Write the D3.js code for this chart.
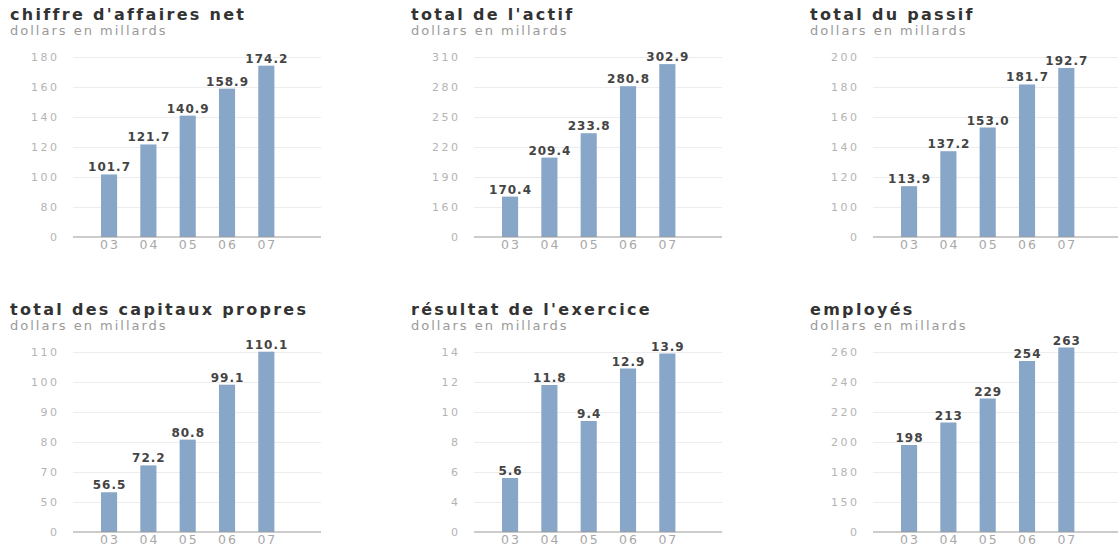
<html>
<head>
  <meta charset="utf-8">
  <script src="https://d3js.org/d3.v7.min.js"></script>
</head>
<style>
  body {
    margin: 0;
    background: #fff;
  }
  text {
    font-family: 'DejaVu Sans', sans-serif;
  }
  .title {
    font-size: 16px;
    font-weight: bold;
    fill: #333;
    letter-spacing: 2.3px;
  }
  .subtitle {
    font-size: 13px;
    fill: #9a9a9a;
    letter-spacing: 2px;
  }
  .yaxis text {
    font-size: 11px;
    fill: #b4b4b4;
    letter-spacing: 2.5px;
  }
  .yaxis line {
    stroke: #ededed;
  }
  .xaxis text {
    font-size: 12.5px;
    fill: #a8a8a8;
    letter-spacing: 2px;
  }
  .bar {
    fill: #88a6c8;
  }
  .val {
    font-size: 12px;
    font-weight: bold;
    fill: #444;
    text-anchor: middle;
    letter-spacing: 1px;
  }
</style>
<body>
  <script>
    // categories
    var years = ["03", "04", "05", "06", "07"];
    var subtitle = "dollars en millards";

    // series values
    var ventes = [101.7, 121.7, 140.9, 158.9, 174.2];
    var actif = [170.4, 209.4, 233.8, 280.8, 302.9];
    var passif = [113.9, 137.2, 153.0, 181.7, 192.7];
    var capitaux = [56.5, 72.2, 80.8, 99.1, 110.1];
    var resultat = [5.6, 11.8, 9.4, 12.9, 13.9];
    var employes = [198, 213, 229, 254, 263];

    // tick labels (evenly spaced on the chart)
    var ticksVentes = [0, 80, 100, 120, 140, 160, 180];
    var ticksActif = [0, 160, 190, 220, 250, 280, 310];
    var ticksPassif = [0, 100, 120, 140, 160, 180, 200];
    var ticksCapitaux = [0, 50, 70, 80, 90, 100, 110];
    var ticksResultat = [0, 4, 6, 8, 10, 12, 14];
    var ticksEmployes = [0, 150, 180, 200, 220, 240, 260];

    var panels = [
      {title: "chiffre d'affaires net", values: ventes, ticks: ticksVentes, fmt: ".1f"},
      {title: "total de l'actif", values: actif, ticks: ticksActif, fmt: ".1f"},
      {title: "total du passif", values: passif, ticks: ticksPassif, fmt: ".1f"},
      {title: "total des capitaux propres", values: capitaux, ticks: ticksCapitaux, fmt: ".1f"},
      {title: "résultat de l'exercice", values: resultat, ticks: ticksResultat, fmt: ".1f"},
      {title: "employés", values: employes, ticks: ticksEmployes, fmt: "d"}
    ];

    var width = 1118,
        height = 548;

    var colX = [0, 401, 800],
        rowY = [0, 295];

    // inside one panel
    var gridLeft = 73, gridRight = 321,
        plotTop = 57, base = 237;

    var svg = d3.select("body").append("svg")
      .attr("width", width)
      .attr("height", height);

    var x = d3.scaleBand()
      .domain(years)
      .range([89.4, 286])
      .paddingInner(0.59)
      .paddingOuter(0.295);

    panels.forEach(function(p, i) {
      var g = svg.append("g")
        .attr("transform", "translate(" + colX[i % 3] + "," + rowY[Math.floor(i / 3)] + ")");

      g.append("text").attr("class", "title")
        .attr("x", 10).attr("y", 20)
        .text(p.title);
      g.append("text").attr("class", "subtitle")
        .attr("x", 10).attr("y", 35)
        .text(subtitle);

      // ticks evenly spaced, piecewise linear in between
      var step = (base - plotTop) / (p.ticks.length - 1);
      var y = d3.scaleLinear()
        .domain(p.ticks)
        .range(p.ticks.map(function(d, k) { return base - k * step; }));

      var ya = g.append("g").attr("class", "yaxis")
        .attr("transform", "translate(" + gridLeft + ",0)")
        .call(d3.axisLeft(y)
          .tickValues(p.ticks.slice(1))
          .tickSize(-(gridRight - gridLeft))
          .tickPadding(13.5)
          .tickFormat(d3.format("d")));
      ya.select(".domain").remove();

      // the zero label sits on the baseline
      g.append("g").attr("class", "yaxis")
        .attr("transform", "translate(" + gridLeft + ",0)")
        .call(d3.axisLeft(y).tickValues([0]).tickSize(0).tickPadding(13.5))
        .select(".domain").remove();

      g.selectAll(".bar")
        .data(p.values)
        .enter().append("rect")
        .attr("class", "bar")
        .attr("x", function(d, k) { return x(years[k]); })
        .attr("width", x.bandwidth())
        .attr("y", function(d) { return y(d); })
        .attr("height", function(d) { return base - y(d); });

      g.selectAll(".val")
        .data(p.values)
        .enter().append("text")
        .attr("class", "val")
        .attr("x", function(d, k) { return x(years[k]) + x.bandwidth() / 2 + 0.5; })
        .attr("y", function(d) { return y(d) - 3; })
        .text(function(d) { return d3.format(p.fmt)(d); });

      g.append("line")
        .attr("x1", gridLeft).attr("x2", gridRight)
        .attr("y1", base).attr("y2", base)
        .attr("stroke", "#999");

      var xa = g.append("g").attr("class", "xaxis")
        .attr("transform", "translate(0," + base + ")")
        .call(d3.axisBottom(x).tickSize(0).tickPadding(3.5));
      xa.select(".domain").remove();
      xa.selectAll("text").attr("dx", 1);
    });
  </script>
</body>
</html>
